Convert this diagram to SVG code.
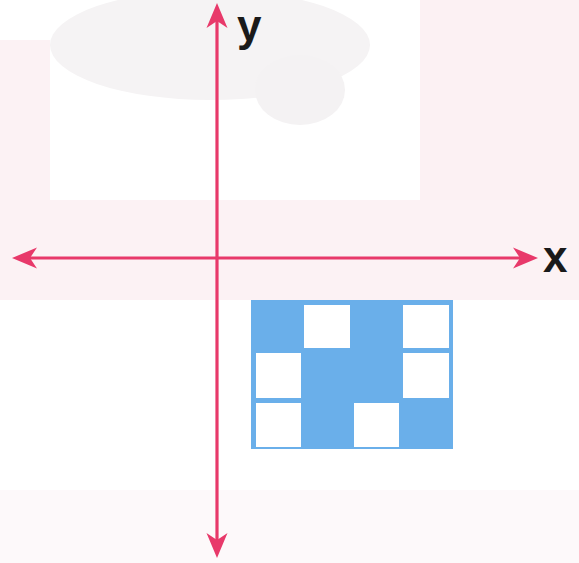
<svg xmlns="http://www.w3.org/2000/svg" width="579" height="563" viewBox="0 0 579 563">
  <style>
    .axis { stroke: #e8396a; stroke-width: 3.2; fill: none; }
    .lbl { font-family: "Liberation Sans", Arial, sans-serif; font-size: 44px; font-weight: bold; fill: #1a1a1a; }
    .blue { fill: #6aafea; }
    .cell { fill: #ffffff; }
  </style>
  <defs>
    <marker id="arr" viewBox="-16 -12 28 24" refX="0" refY="0" markerWidth="28" markerHeight="24" markerUnits="userSpaceOnUse" orient="auto-start-reverse">
      <path d="M10,0 L-15,-10.5 L-8,0 L-15,10.5 Z" fill="#e8396a"/>
    </marker>
  </defs>
  <g id="background">
    <rect x="0" y="0" width="579" height="563" fill="#ffffff"/>
    <rect x="420" y="0" width="159" height="300" fill="#fcf1f3"/>
    <rect x="0" y="200" width="579" height="100" fill="#fcf2f4"/>
    <rect x="0" y="40" width="50" height="160" fill="#fcf2f4"/>
    <ellipse cx="210" cy="45" rx="160" ry="55" fill="#f5f3f4"/>
    <ellipse cx="300" cy="90" rx="45" ry="35" fill="#f4f2f3"/>
    <rect x="0" y="490" width="579" height="73" fill="#fdf9fa"/>
  </g>
  <g id="connectors">
    <line id="x-axis" class="axis" x1="22" y1="258" x2="528" y2="258" marker-start="url(#arr)" marker-end="url(#arr)"/>
    <line id="y-axis" class="axis" x1="217" y1="548" x2="217" y2="13" marker-start="url(#arr)" marker-end="url(#arr)"/>
  </g>
  <g id="label-y"><text class="lbl" x="237" y="41">y</text></g>
  <g id="label-x"><text class="lbl" x="543" y="272">x</text></g>
  <g id="grid">
    <rect class="blue" x="251" y="300" width="202" height="149"/>
    <rect class="cell" x="304" y="305" width="46" height="43"/>
    <rect class="cell" x="403" y="305" width="46" height="43"/>
    <rect class="cell" x="256" y="353" width="45" height="45"/>
    <rect class="cell" x="403" y="353" width="46" height="45"/>
    <rect class="cell" x="256" y="403" width="45" height="44"/>
    <rect class="cell" x="354" y="403" width="45" height="44"/>
  </g>
</svg>
